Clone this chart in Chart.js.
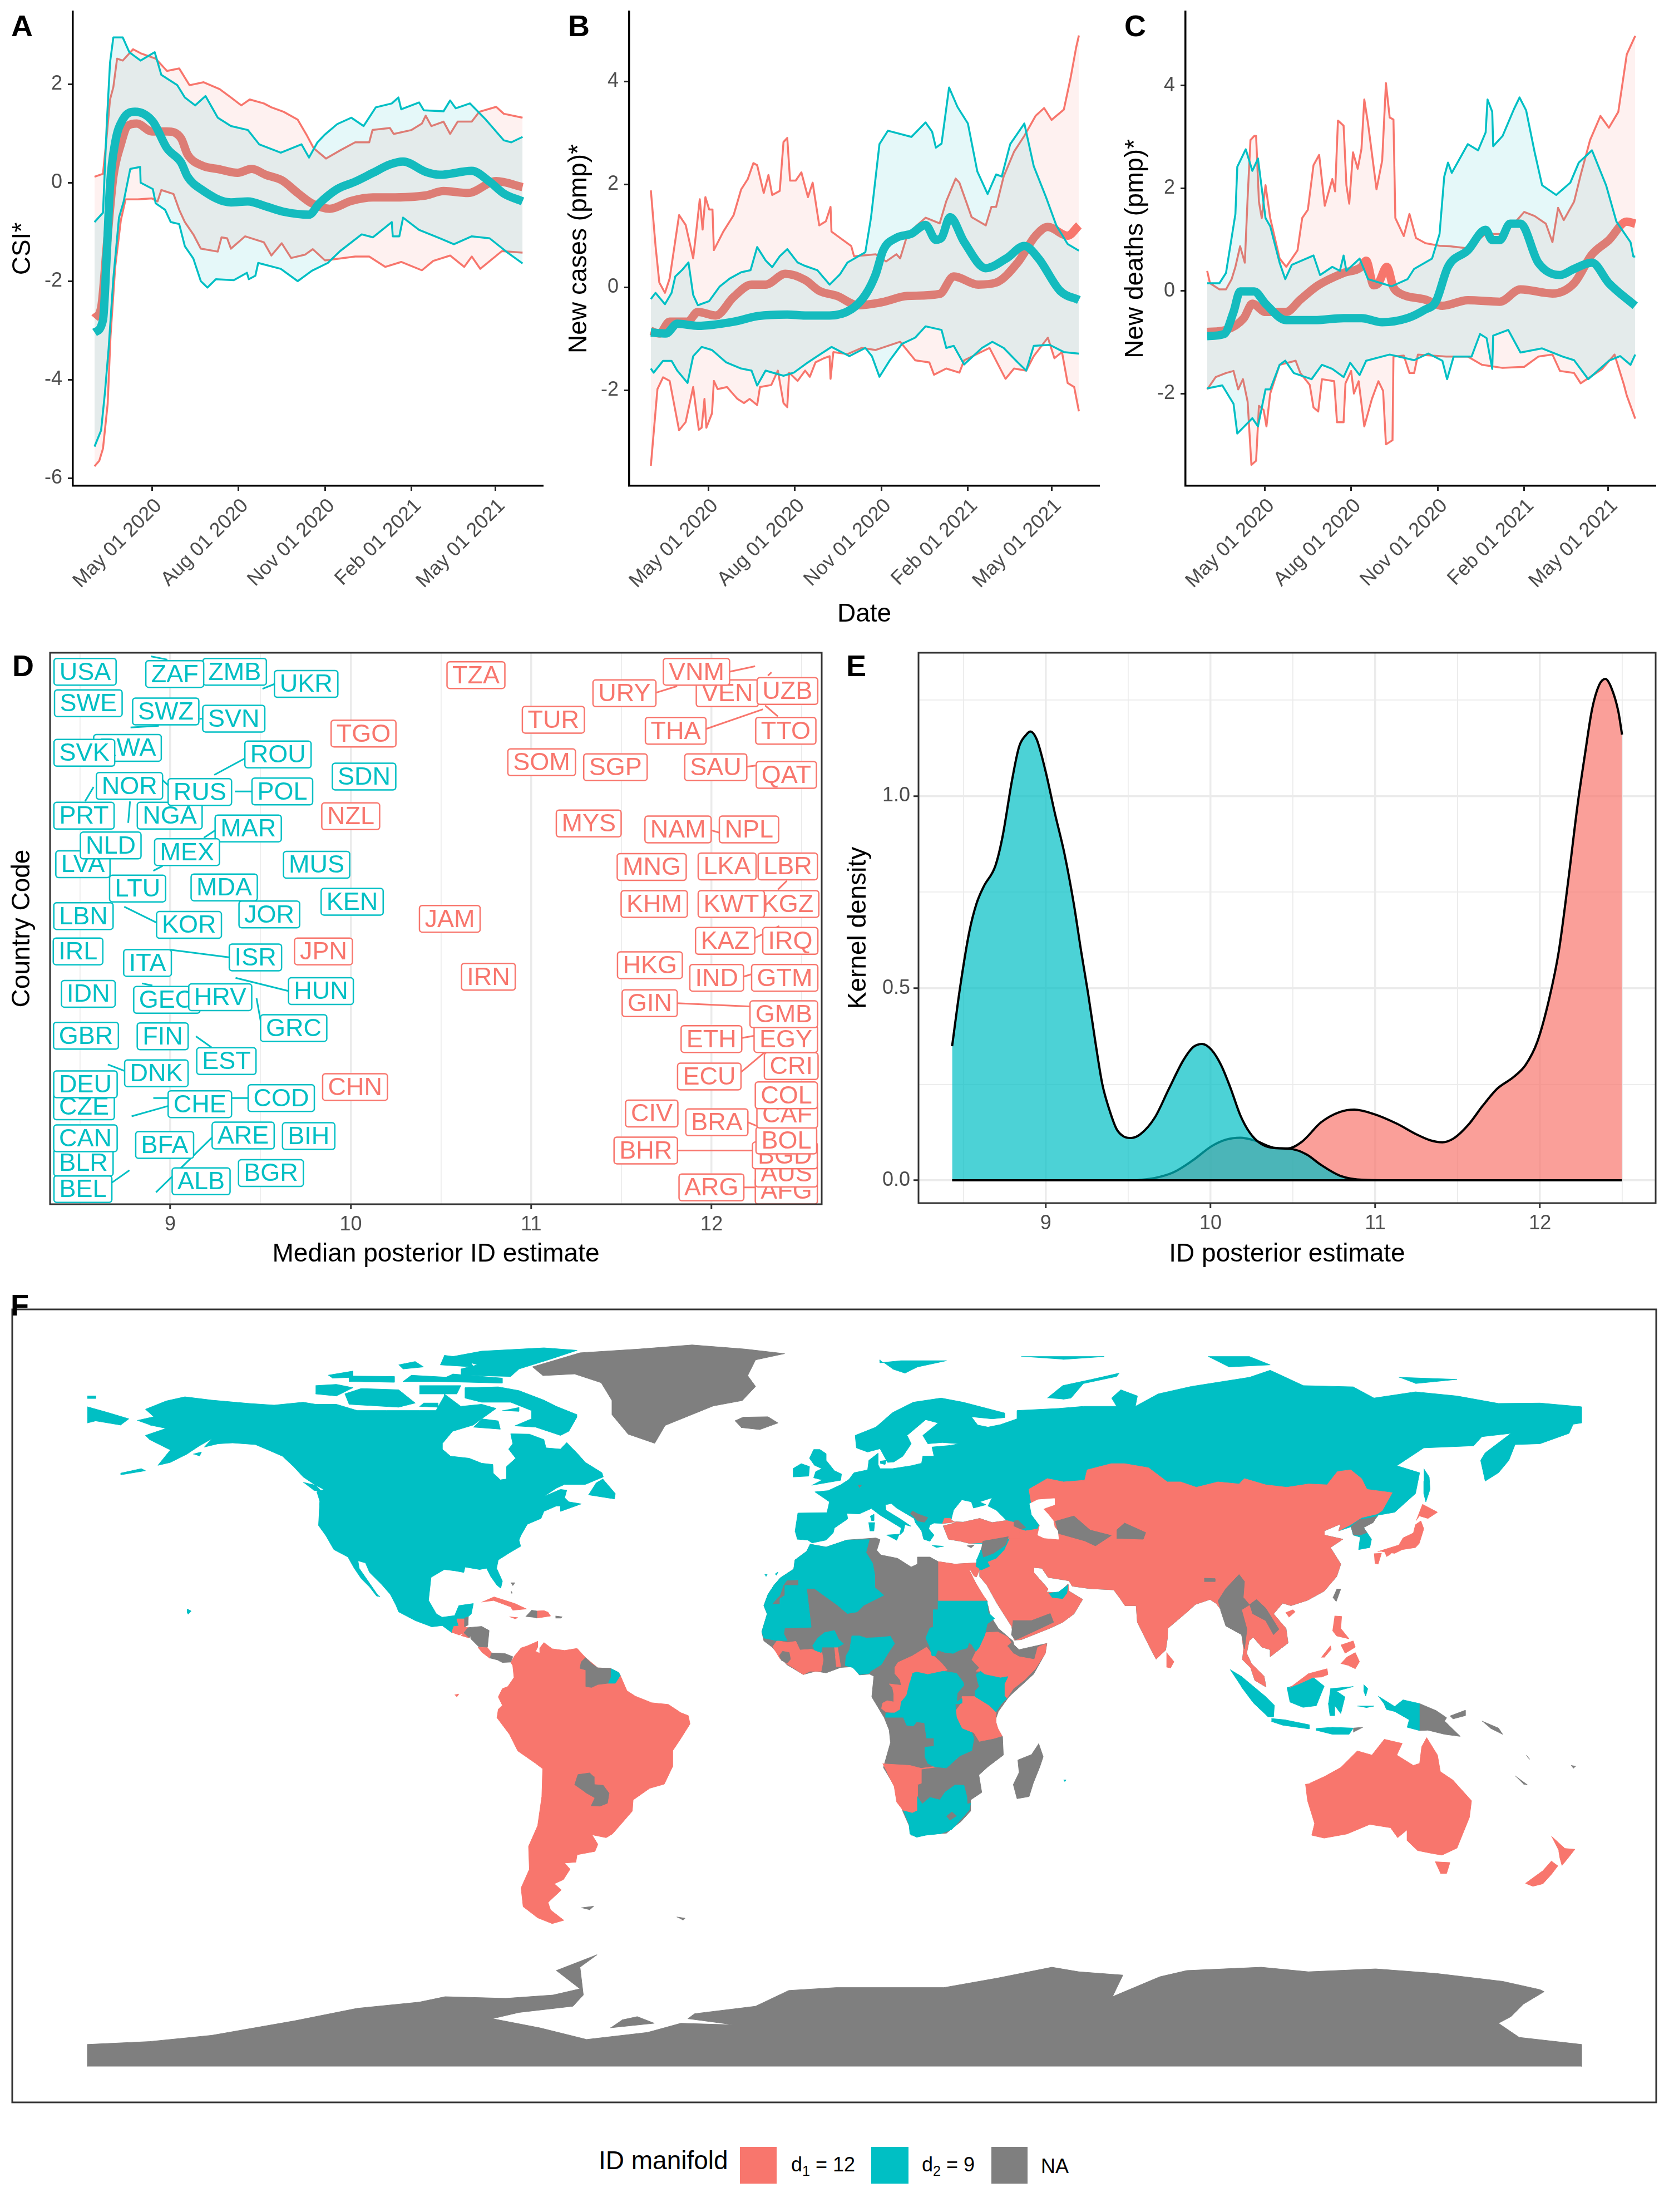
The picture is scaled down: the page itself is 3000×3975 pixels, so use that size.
<!DOCTYPE html>
<html><head><meta charset="utf-8">
<script src="https://cdn.jsdelivr.net/npm/chart.js@4"></script>
<style>
html,body{margin:0;padding:0;background:#fff;font-family:"Liberation Sans",Arial,sans-serif}
#page{position:relative;width:3000px;height:3975px;overflow:hidden}
canvas{position:absolute;display:block}
.t{position:absolute;line-height:1;white-space:nowrap;color:#000}
.L{font-weight:bold;font-size:54px}
.s{position:absolute}
sub{font-size:.7em;line-height:0}
</style></head><body><div id="page">
<canvas id="cA" width="1000" height="1150" style="left:0;top:0"></canvas>
<canvas id="cB" width="1000" height="1150" style="left:1000px;top:0"></canvas>
<canvas id="cC" width="1000" height="1150" style="left:2000px;top:0"></canvas>
<canvas id="cD" width="1500" height="1150" style="left:0;top:1150px"></canvas>
<canvas id="cE" width="1500" height="1150" style="left:1500px;top:1150px"></canvas>
<canvas id="cF" width="3000" height="1500" style="left:0;top:2300px"></canvas>
<div class="t L" style="left:20px;top:19px">A</div>
<div class="t L" style="left:1021px;top:19px">B</div>
<div class="t L" style="left:2021px;top:19px">C</div>
<div class="t L" style="left:22px;top:1169px">D</div>
<div class="t L" style="left:1521px;top:1169px">E</div>
<div class="t L" style="left:19px;top:2318px">F</div>
<div class="t" style="left:1076px;top:3859px;font-size:46px">ID manifold</div>
<div class="s" style="left:1330px;top:3858px;width:66px;height:66px;background:#F8766D"></div>
<div class="t" style="left:1422px;top:3872px;font-size:36px">d<sub>1</sub> = 12</div>
<div class="s" style="left:1566px;top:3858px;width:67px;height:66px;background:#00BFC4"></div>
<div class="t" style="left:1657px;top:3872px;font-size:36px">d<sub>2</sub> = 9</div>
<div class="s" style="left:1782px;top:3858px;width:65px;height:66px;background:#7F7F7F"></div>
<div class="t" style="left:1871px;top:3875px;font-size:36px">NA</div>
</div>
<script>
/* ---------- time axis (days since 2 Mar 2020) ---------- */
const dateTickDays=[60,152,244,336,425];
const dateTickLabels=['May 01 2020','Aug 01 2020','Nov 01 2020','Feb 01 2021','May 01 2021'];
/* ---------- panel A: CSI* ---------- */
const aYTicks=[-6,-4,-2,0,2];
const aRedHi=[[-1,.12],[8,.18],[12,.95],[15.5,1.69],[19,1.94],[23,2.52],[29,2.48],[40,2.71],[49,2.62],[64,2.52],[76,2.27],[89,2.32],[100,1.98],[115,2.04],[132,1.90],[144,1.73],[155,1.57],[164,1.69],[179,1.61],[187,1.53],[200,1.44],[215,1.28],[225,.95],[232,.70],[245,.49],[260.5,.66],[276,.82],[291,.82],[294.5,1.07],[313,1.11],[317,.99],[336,1.07],[347,1.20],[351,1.36],[357,1.15],[370,1.24],[377,.99],[385,1.24],[400,1.24],[408,1.44],[426,1.54],[434,1.40],[454,1.32]];
const aRedLo=[[-1,-5.76],[4,-5.65],[8,-5.40],[13,-4.49],[16,-3.12],[21,-1.71],[27,-.76],[32,-.34],[45,-.34],[60,-.32],[66,-.38],[70,-.15],[83,-.23],[89,-.55],[95,-.80],[104,-1.05],[112,-1.34],[130,-1.40],[134,-1.11],[140,-1.13],[144,-1.34],[159,-1.09],[179,-1.21],[187,-1.48],[198,-1.23],[208,-1.53],[223,-1.46],[231,-1.35],[244,-1.58],[276,-1.50],[291,-1.50],[308,-1.71],[325,-1.61],[347,-1.78],[359,-1.59],[377,-1.48],[392,-1.71],[400,-1.50],[409,-1.75],[432,-1.39],[454,-1.42]];
const aRedMed=[[-1,-2.75],[6,-2.54],[12,-1.29],[19,.12],[27,.78],[34,1.15],[44,1.20],[60,1.04],[76,1.04],[91,.90],[98,.57],[113,.35],[132,.27],[151,.20],[166,.28],[181,.16],[198,.05],[215,-.21],[230,-.42],[249,-.53],[272,-.37],[295,-.30],[313,-.30],[351,-.26],[370,-.17],[396,-.21],[426,.03],[454,-.09]];
const aTealHi=[[-1,-.80],[8,-.61],[12,1.19],[15.5,2.44],[19,2.95],[29,2.95],[36,2.65],[48,2.48],[63,2.65],[70,2.19],[87,1.98],[95,1.73],[106,1.57],[117,1.76],[130,1.32],[144,1.15],[162,1.07],[174,.78],[197,.61],[219,.78],[227,.51],[236,.82],[244,.98],[257,1.19],[272,1.32],[285,1.15],[298,1.53],[315,1.61],[322,1.73],[325,1.49],[344,1.63],[349,1.47],[370,1.45],[377,1.67],[383,1.51],[398,1.61],[415,1.28],[434,.86],[442,.82],[454,.93]];
const aTealLo=[[-1,-5.36],[6,-5.03],[10,-4.28],[14,-3.37],[19,-1.95],[25,-.71],[30,-.38],[37,.28],[47.5,.32],[48,0],[61,-.13],[64,-.42],[74,-.55],[80,-.80],[89,-.84],[95,-1.29],[104,-1.54],[112,-2.0],[119,-2.13],[128,-1.96],[147,-1.98],[161,-1.83],[163,-1.96],[170,-1.89],[173,-1.63],[197,-1.75],[215,-2.0],[230,-1.79],[247,-1.63],[260,-1.39],[283,-1.05],[295,-1.11],[315,-.8],[316,-1.09],[323,-1.09],[327,-.71],[344,-.96],[366,-1.13],[381,-1.25],[400,-1.09],[419,-1.13],[438,-1.42],[454,-1.64]];
const aTealMed=[[-1,-3.04],[8,-2.79],[12,-1.46],[15.5,-.05],[21,.82],[29,1.28],[42,1.44],[61,1.24],[76,.70],[91,.41],[98,.12],[112,-.13],[144,-.40],[162,-.38],[181,-.48],[200,-.59],[227,-.65],[238,-.42],[257,-.13],[276,.02],[295,.2],[313,.37],[327,.43],[351,.22],[366,.16],[400,.24],[419,.02],[434,-.22],[454,-.38]];
/* ---------- panel B: new cases ---------- */
const bYTicks=[-2,0,2,4];
const bRedHi=[[-1,1.88],[4,.80],[8,.09],[14,-.11],[19,.17],[29,1.40],[36,1.21],[44,.56],[47,1.04],[51,1.71],[54,1.12],[57,1.75],[61,1.51],[64.5,1.51],[66,.72],[76,1.08],[87,1.40],[95,1.90],[102,2.10],[108,2.41],[112,2.37],[119,1.83],[124,2.18],[128,1.79],[136,1.87],[140,2.82],[144,2.90],[147,2.07],[153,2.07],[159,2.23],[166,1.75],[171,2.03],[178,1.2],[185,1.28],[190,1.56],[191,1.08],[200,.96],[212,.80],[215,.60],[238,.64],[249,.50],[260,.64],[264,.56],[272,1.04],[291,1.35],[306,1.24],[313,1.67],[323,2.11],[327,2.03],[334,1.67],[340,1.36],[355,1.2],[361,1.56],[366,1.56],[374,2.15],[385,2.63],[396,2.94],[408,3.33],[417,3.48],[425,3.25],[438,3.45],[445,4.05],[451,4.65],[454,4.89]];
const bRedLo=[[-1,-3.47],[6,-1.98],[12,-1.75],[19,-1.82],[29,-2.78],[36,-2.62],[44,-1.94],[47,-2.37],[50,-2.77],[53,-2.73],[56,-2.17],[58,-2.73],[64,-2.45],[66,-1.82],[70,-1.98],[80,-1.94],[91,-2.17],[98,-2.25],[104,-2.17],[112,-2.29],[115,-1.94],[127,-1.90],[134,-1.62],[140,-2.25],[144,-2.33],[146,-1.66],[155,-1.82],[163,-1.62],[168,-1.74],[174,-1.46],[183,-1.38],[189,-1.34],[190,-1.78],[193,-1.26],[208,-1.30],[223,-1.18],[238,-1.22],[264,-1.06],[280,-1.42],[295,-1.46],[300,-1.70],[313,-1.58],[327,-1.66],[332,-1.42],[359,-1.18],[376,-1.78],[385,-1.58],[398,-1.62],[406,-1.34],[421,-.98],[428,-1.38],[436,-1.26],[442,-1.86],[449,-1.94],[454,-2.41]];
const bRedMed=[[-1,-.85],[8,-.90],[19,-.67],[38,-.67],[49,-.48],[68,-.55],[87,-.19],[106,.05],[121,.05],[142,.26],[163,.14],[178,-.07],[197,-.17],[219,-.35],[245,-.29],[272,-.17],[306,-.13],[321,.21],[347,.05],[366,.09],[389,.48],[408,1.0],[421,1.17],[442,1.0],[454,1.2]];
const bTealHi=[[-1,-.23],[4,-.11],[14,-.33],[21,-.11],[25,.21],[32,.33],[39,.48],[44,-.15],[49,-.35],[61,-.27],[72,.01],[83,.17],[95,.29],[105,.33],[112,.78],[121,.52],[128,.39],[136,.60],[144,.74],[155,.48],[162,.42],[176,.33],[189,.05],[200,.25],[208,.48],[227,.68],[233,1.35],[242,2.78],[251,3.04],[276,2.92],[291,3.2],[298,3.02],[302,2.71],[308,2.79],[316,3.88],[325,3.5],[336,3.18],[346,2.25],[357,1.81],[366,2.19],[372,2.15],[381,2.78],[396,3.18],[406,2.35],[419,1.75],[430,1.2],[442,.84],[454,.71]];
const bTealLo=[[-1,-1.58],[2,-1.66],[12,-1.43],[21,-1.43],[27,-1.62],[38,-1.86],[44,-1.34],[53,-1.16],[64,-1.22],[79,-1.46],[95,-1.58],[106,-1.62],[112,-1.91],[121,-1.62],[140,-1.72],[151,-1.66],[166,-1.46],[176,-1.34],[191,-1.16],[210,-1.34],[227,-1.18],[234,-1.34],[242,-1.74],[253,-1.42],[266,-1.10],[280,-.98],[291,-.76],[308,-.83],[313,-1.18],[321,-1.14],[332,-1.50],[351,-1.18],[362,-1.06],[374,-1.18],[389,-1.46],[398,-1.62],[406,-1.14],[423,-1.12],[438,-1.26],[454,-1.29]];
const bTealMed=[[-1,-.88],[15,-.90],[27,-.71],[49,-.75],[87,-.67],[113,-.56],[144,-.53],[163,-.55],[189,-.55],[212,-.43],[227,-.15],[238,.25],[246,.72],[260,.96],[276,1.04],[291,1.21],[302,.92],[308,.96],[317,1.36],[332,.88],[355,.37],[377,.56],[396,.80],[411,.56],[434,-.07],[454,-.25]];
/* ---------- panel C: new deaths ---------- */
const cYTicks=[-2,0,2,4];
const cRedHi=[[-1,.39],[2,.15],[12,.03],[19,.03],[25,.23],[29,.47],[34,.87],[39,.55],[42,1.82],[45,2.94],[49,3.02],[51,3.02],[54,1.74],[57,1.42],[61,2.06],[66,1.42],[76,.63],[83,.47],[95,.79],[100,1.42],[106,1.58],[112,2.45],[118,2.65],[124,1.66],[132,2.18],[135,1.94],[138,3.32],[144,3.22],[147,2.06],[150,1.70],[154,2.70],[159,2.38],[163,2.77],[166,3.73],[170,3.26],[179,1.98],[185,2.54],[189,4.05],[193,3.38],[197,3.34],[199,1.42],[208,1.07],[214,1.50],[221,1.03],[231,.93],[246,.88],[257,.87],[276,.83],[295,1.11],[313,1.11],[325,1.31],[336,1.54],[347,1.46],[359,1.31],[366,.95],[372,1.62],[378,1.38],[389,1.74],[396,2.26],[406,2.94],[417,3.41],[426,3.18],[436,3.49],[445,4.61],[454,4.97]];
const cRedLo=[[-1,-1.92],[8,-1.68],[19,-1.60],[27,-1.56],[32,-1.92],[37,-1.72],[42,-2.16],[46,-3.39],[51,-3.31],[54,-2.24],[59,-2.32],[62,-2.64],[66,-2.0],[76,-1.44],[93,-1.36],[98,-1.60],[108,-1.83],[112,-2.27],[117,-2.35],[121,-1.72],[134,-1.76],[137,-2.56],[144,-2.56],[146,-1.80],[152,-1.56],[155,-2.0],[160,-1.76],[166,-2.64],[174,-2.11],[181,-1.76],[186,-1.95],[189,-2.99],[196,-2.91],[197,-1.28],[208,-1.26],[214,-1.60],[219,-1.60],[223,-1.24],[253,-1.28],[276,-1.28],[291,-1.44],[313,-1.50],[336,-1.48],[351,-1.28],[366,-1.24],[374,-1.56],[389,-1.60],[396,-1.80],[419,-1.52],[432,-1.24],[442,-1.83],[445,-2.04],[454,-2.49]];
const cRedMed=[[-1,-.80],[19,-.76],[38,-.53],[47,-.25],[61,-.41],[83,-.41],[98,-.17],[117,.11],[144,.35],[163,.47],[168,.59],[176,.11],[181,.15],[190,.47],[197,.07],[204,-.05],[231,-.17],[249,-.29],[276,-.18],[310,-.21],[332,.03],[366,-.05],[389,.15],[408,.71],[426,.99],[445,1.35],[454,1.31]];
const cTealHi=[[-1,.15],[12,.15],[19,.35],[29,1.50],[31,2.42],[40,2.76],[47,2.34],[53,2.58],[61,1.42],[66,1.26],[76,.55],[82,.23],[89,.51],[112,.69],[119,.31],[132,.47],[140,.39],[144,.69],[147,.39],[161,.63],[170,.23],[195,.09],[212,.23],[219,.43],[238,.63],[246,1.11],[251,2.23],[255,2.50],[259,2.30],[276,2.86],[287,2.74],[295,3.09],[297,3.73],[302,3.49],[303,2.82],[313,3.02],[325,3.54],[331,3.77],[338,3.52],[347,2.71],[355,2.06],[370,1.87],[385,2.11],[394,2.50],[408,2.74],[423,2.06],[434,1.35],[449,.95],[452,.67],[454,.67]];
const cTealLo=[[-1,-1.90],[15,-1.84],[27,-2.20],[31,-2.78],[47,-2.48],[53,-2.64],[61,-1.92],[66,-1.92],[76,-1.44],[82,-1.36],[91,-1.60],[110,-1.72],[121,-1.44],[132,-1.52],[144,-1.68],[151,-1.40],[161,-1.64],[168,-1.36],[193,-1.24],[219,-1.35],[234,-1.22],[249,-1.36],[254,-1.72],[261,-1.28],[280,-1.28],[289,-.84],[296,-.92],[302,-1.52],[303,-.87],[319,-.76],[332,-1.20],[355,-1.12],[377,-1.28],[389,-1.35],[404,-1.72],[426,-1.36],[438,-1.27],[449,-1.44],[454,-1.24]];
const cTealMed=[[-1,-.88],[17,-.84],[27,-.41],[34,-.01],[49,-.01],[61,-.25],[83,-.57],[113,-.57],[144,-.53],[163,-.53],[185,-.61],[212,-.53],[230,-.37],[242,-.21],[255,.47],[276,.79],[295,1.19],[302,.99],[310,.99],[321,1.31],[332,1.31],[351,.55],[374,.31],[389,.43],[408,.55],[426,.15],[454,-.29]];
/* ---------- panel D: country labels [code, ID estimate, row position] ---------- */
const dXTicks=[8.5,9,9.5,10,10.5,11,11.5,12,12.5];
const dTeal=[["ALB",9.171,4.4],["ARE",9.404,12.7],["BEL",8.516,3.0],["BFA",8.969,11.0],["BGR",9.558,5.9],["BIH",9.767,12.6],["BLR",8.519,7.8],["CAN",8.530,12.2],["CHE",9.164,18.4],["COD",9.615,19.5],["CZE",8.522,18.0],["DEU",8.530,22.0],["DNK",8.923,24.0],["EST",9.311,26.2],["FIN",8.958,30.7],["GBR",8.533,30.8],["GEO",8.981,37.3],["GRC",9.684,32.2],["HRV",9.277,37.8],["HUN",9.835,38.9],["IDN",8.546,38.4],["IRL",8.489,46.1],["ISR",9.472,45.0],["ITA",8.874,44.0],["JOR",9.549,52.8],["KEN",10.008,55.1],["KOR",9.104,50.9],["LBN",8.519,52.5],["LTU",8.819,57.5],["LVA",8.516,61.9],["MAR",9.432,68.4],["MDA",9.299,57.7],["MEX",9.093,64.1],["MUS",9.811,61.8],["NGA",8.997,70.7],["NLD",8.670,65.3],["NOR",8.774,76.1],["POL",9.621,75.1],["PRT",8.522,70.7],["ROU",9.597,81.8],["RUS",9.164,75.0],["RWA",8.763,83.0],["SDN",10.074,77.8],["SVK",8.524,82.1],["SVN",9.352,88.3],["SWE",8.546,91.1],["SWZ",8.975,89.6],["UKR",9.753,94.6],["USA",8.528,96.8],["ZMB",9.357,96.8],["ZAF",9.025,96.4]];
const dRed=[["AFG",12.414,2.7],["ARG",11.999,3.3],["AUS",12.414,5.8],["BGD",12.406,9.1],["BHR",11.635,10.0],["BOL",12.414,11.8],["BRA",12.029,15.1],["CAF",12.419,16.5],["CHN",10.024,21.5],["CIV",11.668,16.7],["COL",12.414,20.0],["CRI",12.441,25.3],["ECU",11.987,23.4],["EGY",12.411,30.2],["ETH",11.999,30.2],["GIN",11.657,36.7],["GMB",12.400,34.7],["GTM",12.405,41.3],["HKG",11.658,43.6],["IND",12.028,41.3],["IRN",10.763,41.5],["IRQ",12.436,48.0],["JAM",10.549,52.0],["JPN",9.849,46.1],["KAZ",12.075,48.0],["KGZ",12.422,54.7],["KHM",11.682,54.7],["KWT",12.109,54.7],["LBR",12.422,61.5],["LKA",12.086,61.5],["MNG",11.668,61.4],["MYS",11.319,69.3],["NAM",11.814,68.2],["NPL",12.207,68.2],["NZL",10.0,70.6],["QAT",12.414,78.1],["SAU",12.023,79.5],["SGP",11.467,79.5],["SOM",11.058,80.4],["TGO",10.071,85.6],["THA",11.801,86.1],["TTO",12.411,86.1],["TUR",11.123,88.1],["TZA",10.694,96.2],["VEN",12.087,92.9],["URY",11.517,92.9],["UZB",12.420,93.3],["VNM",11.916,96.8]];
const dSegTeal=[[8.591,98.5,8.678,97.0],[8.893,99.6,8.984,99.0],[9.511,93.7,9.579,94.6],[8.780,86.7,8.937,87.0],[9.162,88.3,9.181,88.3],[9.244,78.1,9.414,81.1],[8.956,77.2,8.992,76.1],[9.358,75.1,9.453,75.1],[8.528,73.3,8.575,75.9],[8.777,73.3,8.767,69.4],[9.186,66.7,9.252,68.1],[8.906,60.7,8.958,61.6],[8.745,54.2,8.925,51.3],[9.0,46.4,9.330,45.0],[8.843,40.3,8.901,39.9],[9.362,41.3,9.657,38.9],[9.478,37.6,9.503,33.1],[9.142,30.7,9.228,28.7],[8.654,25.6,8.748,24.4],[8.906,19.5,8.992,19.5],[9.338,19.5,9.434,19.5],[8.786,16.2,8.992,18.1],[8.921,2.4,9.233,12.4],[8.678,4.2,8.774,6.4]];
const dSegRed=[[12.097,96.8,12.241,97.8],[11.691,93.0,11.809,94.2],[12.312,96.1,12.332,96.7],[11.966,86.4,12.284,90.0],[12.296,90.7,12.367,88.7],[12.194,79.6,12.244,79.8],[11.993,68.1,12.045,67.6],[12.367,57.3,12.417,58.9],[12.238,48.5,12.375,50.7],[12.175,41.5,12.225,42.0],[11.806,36.7,12.218,36.1],[12.167,30.4,12.238,30.8],[12.163,24.2,12.291,27.7],[12.202,15.1,12.254,14.4],[11.809,10.0,12.229,10.0],[12.178,3.3,12.246,3.3]];
/* ---------- panel E: kernel densities ---------- */
const eXTicks=[8.5,9,9.5,10,10.5,11,11.5,12,12.5];
const eYTicks=[0,.25,.5,.75,1,1.25];
const eTeal=[[8.431,.349],[8.478,.498],[8.535,.646],[8.579,.720],[8.622,.764],[8.694,.819],[8.737,.894],[8.795,1.042],[8.838,1.129],[8.882,1.160],[8.905,1.168],[8.945,1.147],[8.997,1.067],[9.055,.955],[9.113,.850],[9.170,.719],[9.214,.597],[9.257,.485],[9.300,.362],[9.343,.250],[9.387,.182],[9.430,.133],[9.473,.114],[9.517,.110],[9.574,.120],[9.661,.163],[9.747,.238],[9.834,.312],[9.892,.346],[9.949,.355],[10.007,.339],[10.065,.299],[10.123,.238],[10.180,.170],[10.238,.124],[10.296,.098],[10.368,.085],[10.498,.081],[10.584,.067],[10.671,.040],[10.786,.012],[10.931,.001],[11.075,0]];
const eRed=[[9.545,0],[9.661,.006],[9.776,.021],[9.892,.052],[10.007,.089],[10.094,.106],[10.180,.111],[10.267,.104],[10.382,.085],[10.469,.083],[10.556,.101],[10.671,.151],[10.786,.178],[10.873,.184],[10.988,.173],[11.133,.147],[11.248,.120],[11.335,.104],[11.407,.099],[11.479,.110],[11.566,.145],[11.652,.194],[11.739,.238],[11.840,.269],[11.912,.300],[11.984,.361],[12.056,.473],[12.114,.596],[12.172,.782],[12.229,.980],[12.273,1.109],[12.316,1.226],[12.359,1.289],[12.397,1.305],[12.432,1.283],[12.475,1.221],[12.498,1.160]];
const eBase=[[8.431,0],[12.498,0]];
/* ---------- panel F: map polygons (lon, lat) ---------- */
const coastSouthAsia=[[121.5,39],[122,40.7],[118,39],[118,38],[122.5,37],[119.5,35],[122,31],[121,28],[118,24.5],[114,22.3],[110,21],[108,21.6],[105.8,19],[108.8,15.5],[109.3,12],[105,8.7],[105,10.4],[103,11],[100.9,13.4],[99.9,12.5],[99.3,9.5],[100.5,7],[103.5,4],[104,1.4],[101.3,3],[100.3,6],[98.3,8],[98.6,10.5],[98,15],[97,16.5],[94.5,16],[94.3,18.5],[92,21.5],[90.5,22.5],[87,21.3],[85,19.5],[80.3,15.5],[80.2,13],[79.8,10.3],[77.5,8.1],[76,11],[73,17],[72.7,21],[70,21],[69,22.5],[67.3,24.8],[61.5,25.1],[57.3,25.7],[56.5,27],[51.5,27.8],[50,30],[48,30.2],[48,29],[50.2,26.5],[51.5,25],[51,24.3],[54,24],[56.3,26.2],[56.5,24.5],[59.8,22.5],[57.7,19],[55,17],[52,15.6],[45,12.8],[43.3,12.7],[42.7,16],[39.2,21.5],[36.7,26],[35,28],[35,29.4]];
const baseTeal=[
[[-168,65.6],[-164,66.5],[-166,68.3],[-161,70.3],[-156.5,71.3],[-150,70.5],[-141,69.7],[-135,69.3],[-128,70],[-125,69.5],[-120,69.5],[-115,68],[-108,68],[-100,68],[-96,68],[-94,71.5],[-94,72],[-90,69],[-85,69.5],[-81.5,68.5],[-85,66],[-87,64.5],[-92,63],[-94.5,60],[-94.5,58.7],[-92.5,57],[-88,56.5],[-85,55.3],[-82.3,55],[-82.2,52.9],[-80.5,51.3],[-79,51.5],[-79,54.5],[-76.8,56.5],[-78.5,58.7],[-77.5,60],[-78,62.4],[-73.5,62.3],[-70,61],[-69.5,59],[-66,58.7],[-64.5,60.3],[-61.8,57.5],[-60,55.5],[-56,53],[-55.7,52],[-60,50.2],[-65,50.2],[-67,49.3],[-70,47.3],[-66,49],[-64.5,48.8],[-65,47],[-64,46],[-61,45.5],[-63.5,44.6],[-66,43.7],[-66,45],[-67,45],[-70,43.7],[-70.7,42],[-74,40.6],[-75.5,38],[-76,36.8],[-75.6,35.3],[-78,33.9],[-81,32],[-81.4,30],[-80,26.9],[-80.4,25.2],[-81.3,25.9],[-82.8,28],[-83.8,30],[-85.5,29.7],[-89,30.3],[-89.3,29],[-91.5,29.4],[-94,29.7],[-97.2,27.8],[-97.5,25],[-97.8,22.3],[-95.9,19],[-94.5,18.2],[-91.5,18.6],[-90.5,21],[-87,21.5],[-87.5,19],[-88.3,18.3],[-89.2,18],[-89.2,17.8],[-91,17.8],[-90.5,16.1],[-91.7,16],[-92.2,14.5],[-94.5,16.2],[-97,15.9],[-101,17.4],[-105,19.5],[-105.6,21],[-107,23.7],[-109,26],[-112,29],[-113,31.3],[-114.8,31.8],[-114.5,30],[-110,23.5],[-109.5,23.2],[-110.3,23.3],[-112,25.5],[-114,27.5],[-115.7,30],[-117.1,32.5],[-117.2,32.7],[-120.6,34.5],[-122.5,37.8],[-124.3,40.3],[-124,46.2],[-124.7,48.4],[-123,49],[-125,50],[-128,52],[-130.3,54.5],[-133,57],[-136,58.3],[-139.5,59.8],[-145,60.2],[-148.5,60],[-151.8,59.2],[-150,61.2],[-153,59.5],[-156,57.5],[-160,55.5],[-163,54.8],[-160,58.5],[-162,59.5],[-165,61],[-166,62],[-161,63.7],[-165,64.5]],
[[-62,66.5],[-64,63],[-66,62],[-72,64],[-77,64.3],[-73,66],[-73,68],[-78,70],[-85,70],[-89,71],[-89,73.5],[-81,73.7],[-76,72.8],[-70,70.5],[-67,69],[-62,67]],
[[-117,69.5],[-105,68.8],[-101,69.8],[-105,73],[-114,73.3],[-118,72]],
[[-125,72],[-120,71.5],[-116,73.5],[-120,74.3],[-125,74]],
[[-90,76.5],[-78,76.2],[-76,78],[-68,80.5],[-62,82.5],[-70,83.1],[-85,82.3],[-92,81],[-86,79],[-90,78]],
[[-96,75],[-80,74.6],[-80,75.8],[-92,76.8]],
[[-100,72],[-91,72],[-90,74],[-100,74]],
[[-117,75],[-106,74.8],[-106,76.2],[-117,76.3]],
[[-95,79],[-87,78.5],[-88,80.5],[-94,81.3]],
[[-87,64],[-80.5,63.5],[-81,65.5],[-85,66]],
[[-122,76.5],[-116,77.5],[-116,76],[-121,75.8]],
[[-104,78],[-99,78.5],[-101,79.8],[-105,79]],
[[-104,75],[-93,75],[-93,76],[-102,76.5]],
[[-100,69],[-95.5,68.8],[-95.5,69.8],[-99,69.8]],
[[-80,68],[-76,67.8],[-76,68.8]],
[[-59.3,47.7],[-53,46.7],[-52.8,48],[-55.8,51.5],[-57.5,50.5]],
[[-128,50.7],[-125,50],[-123.4,48.4],[-125.5,48.8]],
[[-156,20.2],[-155,19.7],[-155.7,18.9],[-156,19.5]],
[[-172,52.5],[-166,53.5],[-167,54],[-172,52.9]],
[[-154.5,57.5],[-152.5,58],[-153,57]],
[[-180,68.9],[-175,67.5],[-170,66],[-172,64.5],[-178,65.5],[-180,65]],
[[-180,71.5],[-178,71.5],[-178,70.9],[-180,70.9]],
[[-9.5,38.8],[-8.8,43.3],[-1.8,43.4],[-1.2,46],[-4.7,48.4],[-1.5,48.7],[1.5,50.1],[3.5,51.4],[4.7,53],[8,53.7],[8.3,56],[10.5,57.7],[10.5,55],[11,54],[14,54],[18.5,54.7],[21,55.3],[21.3,57],[24,57],[23.5,59.2],[28,59.6],[30,60],[26,60.3],[22.5,60],[21.3,62],[25,65],[22,65.8],[17.5,62],[18.5,60],[16.5,57],[14.3,55.6],[12.8,55.5],[11,58.8],[8,58],[5.3,59],[5,62],[10,64],[14,67.5],[19,70],[25.7,71],[31,70],[41,67.4],[41,66.3],[38,66],[33,66.5],[34.5,64.5],[37,64],[40,64.6],[44,66],[44,68],[54,68.5],[60,69],[68,69],[66.8,71],[69,73],[73,71.5],[72.5,69],[78,72],[86,73.8],[100,76],[105,77.7],[113,74],[125,73.7],[130,71],[140,72.5],[150,71.5],[160,69.7],[170,69.8],[180,68.9],[180,65],[178,64.7],[177,62.5],[170,60],[164,59.8],[162.5,56],[160,53],[156.8,51],[155.7,56],[156.8,57.8],[163,62.5],[156,61.7],[154,59.5],[142,59],[135.5,54.7],[141,53],[140,48],[135,43.5],[131,42.8],[130.7,42.3],[127.5,39.8],[129.4,37],[129,35],[126.3,34.5],[126.7,37.5],[125,38],[124.5,40],...coastSouthAsia,[34.3,31.3],[35,33],[36,36],[32.5,36],[30.5,36.5],[27.5,37],[26.5,39.5],[26.2,40.2],[29,40.9],[29.2,41.2],[31,41.1],[35,42],[38,41],[41.5,41.5],[39,44],[37,45],[38,47],[35,46],[36.5,45.3],[33.5,44.5],[33,46],[30.7,46.5],[28.7,44],[28.1,41.6],[29,41.15],[27,40.9],[26.2,40.8],[24,40.9],[23,40.4],[22.7,39.5],[24,38],[23,36.5],[21.5,37],[21,39],[19.5,41],[19.2,42],[15,44.5],[13.7,45.6],[12.3,45.3],[12.4,44],[16,41.8],[18.5,40.1],[17,40.5],[16.6,38.8],[15.7,38],[16.1,39.7],[14,41],[11,42.8],[8.9,44.4],[6,43.1],[3,43.2],[3.2,41.9],[0,39.7],[-.3,38.5],[-2,36.8],[-5.4,36.1],[-6.4,36.8],[-9,37]],
[[10.9,80.2],[11,79.5],[16,80],[27,80],[20,78.5],[17,77],[14,78]],
[[45,81],[65,81],[55,80.3]],
[[51.3,71],[55,74],[62,75.5],[68.6,77],[68,76.2],[60,74.5],[57,71],[55,70.7]],
[[90,81],[100,81],[105,79],[95,78.5]],
[[136,76],[150,75.5],[140,74.5]],
[[-5.5,50],[1.5,51.2],[1.7,52.7],[0,53.5],[-2,56],[-2,57.6],[-3.5,58.6],[-5,58.6],[-6,56.5],[-4.8,54.8],[-3,54],[-4.5,53.3],[-5,51.8],[-3,51.3]],
[[-10,52],[-6.2,52.2],[-6,54.5],[-8,55.2],[-10,54]],
[[12.5,38],[15.6,38.2],[15,36.7]],
[[8.2,41],[9.7,41],[9.5,39],[8.5,39]],
[[8.6,42.5],[9.5,43],[9.5,41.5],[8.9,41.5]],
[[23.5,35.5],[26.3,35.3],[24.5,35]],
[[11,55.8],[12.5,56],[12.2,55],[11,55.3]],
[[142,54],[143.3,52],[143.5,49],[142.5,46],[142,48],[142,51]],
[[95.3,5.6],[98,4],[104,-1],[106,-3],[105.8,-5.8],[104.5,-5.8],[101,-2.5],[98,1.5]],
[[105.3,-6.2],[108.5,-6.5],[114.4,-7.7],[114.4,-8.7],[108,-7.8],[105.3,-6.9]],
[[109,1.2],[111.6,2],[115.4,3.7],[118,1.6],[116.1,-3.1],[112.9,-3.5],[109.7,-2.2]],
[[119.5,1],[125,1.5],[121,.4],[123,-1],[122,-5],[120.5,-3],[120.5,-5.5],[119.4,-5.5],[119,-2.5]],
[[116,-8.6],[120,-8.3],[125,-8.5],[124,-10],[120,-10],[116,-9]],
[[127.5,2],[128.5,1],[128,-.8],[127.5,.5]],
[[126,-3.2],[130,-3.2],[128,-3.6]],
[[131,-.8],[135,-3.3],[137,-1.7],[141,-2.6],[141,-9.1],[138,-8.3],[138.5,-6.5],[135,-4.5],[133,-4],[132.5,-2.8]],
[[55.2,-21],[55.8,-21],[55.5,-21.4]],
[[-16.8,28.5],[-16.2,28.5],[-16.5,28]],[[-14.3,28.6],[-13.6,29.1],[-14,28.3]]
];
const baseRed=[
[[-77.3,8.6],[-75.5,10.8],[-74,11.3],[-71.5,12.4],[-71.5,11],[-72,10],[-71,9.5],[-71,10.8],[-70,12.1],[-68,10.6],[-65,10.2],[-62,10.7],[-60.9,9.5],[-60,8.5],[-57,6],[-54,5.9],[-52,4.9],[-51.6,4.2],[-50,.5],[-48,-.8],[-44,-2.4],[-40,-2.8],[-37,-4.8],[-35.2,-5.5],[-34.8,-7.5],[-37,-11],[-39,-14],[-39,-17.8],[-41,-22],[-44.5,-23],[-48.5,-25.8],[-48.7,-28.5],[-52,-32.3],[-53.5,-34],[-55,-34.9],[-58.4,-34.2],[-57,-36.5],[-57.7,-38.2],[-62,-39],[-62.3,-40.8],[-65,-41],[-63.7,-42.5],[-65.3,-45],[-67.5,-46],[-65.8,-47.5],[-69,-50.5],[-68.4,-52.3],[-65.2,-54.8],[-68,-55.6],[-71.5,-54.2],[-75,-51.5],[-75.5,-47],[-73.5,-42.5],[-73.7,-37],[-71.5,-32],[-70.5,-25],[-70.3,-18.3],[-72,-17],[-76.3,-14],[-78.3,-10],[-81.3,-6],[-81,-4],[-80,-3],[-81,-1],[-80,1],[-78.7,1.5],[-77.2,3.7],[-77.5,6.5],[-78,7.4]],
[[-85,21.8],[-82,23.1],[-77,21.5],[-74.2,20.2],[-77.5,19.9],[-78,20.7],[-82,22.2]],
[[-71.7,18],[-68.4,18.5],[-69,19.4],[-70,19.8],[-71.7,19.7]],
[[-78.3,18.3],[-76.3,18.1],[-77,17.8]],
[[-92.2,14.5],[-91.7,16],[-90.5,16.1],[-91,17.8],[-89.2,17.8],[-89,15.9],[-88.3,15.7],[-89.3,14.4],[-90.5,13.9]],
[[-90,13.8],[-88,13.2],[-87.7,13.8],[-89.3,14.4]],
[[-85.9,10.9],[-83.7,11],[-82.6,9.6],[-83,8.3],[-85,9.8]],
[[-91.5,-.5],[-90.5,-.3],[-91,-1]],
[[113.5,-22],[114,-26],[115.7,-31.5],[115,-34.3],[118,-35],[123.5,-34],[129,-31.7],[134,-32.5],[135.7,-34.9],[138,-33],[138,-35.6],[140.5,-38],[144,-38.7],[146.4,-39.1],[150,-37.4],[153,-30],[153.5,-26],[149,-21],[146,-19],[145.3,-15],[142.7,-10.8],[141.5,-13],[141,-17],[139.5,-17.5],[135.5,-15],[136.8,-12.2],[132.5,-11.2],[129.5,-15],[126,-14],[122,-18],[118,-20.2],[114.5,-21.8]],
[[144.7,-40.7],[148.3,-40.9],[147.5,-43.5],[146,-43.5]],
[[172.7,-34.5],[176,-37.5],[178.4,-37.7],[177,-39.5],[175.3,-41.6],[174.8,-39.8],[174.5,-38]],
[[172.7,-40.5],[174.3,-41.7],[172.7,-43.8],[170.7,-46],[168.3,-46.6],[166.5,-45.9],[170.5,-43]],
[[140.2,41.5],[141.7,45.4],[145.3,43.5],[143,42],[141,42.6]],
[[130.9,34],[136,35.6],[137,37.3],[139.5,38.5],[140,40.5],[141.3,41.4],[142,39.5],[140.9,36],[140,35],[136.8,34.5],[135,33.6],[132,34]],
[[130,33.5],[131.8,33.6],[131,31],[130.2,31.2]],
[[132.5,34],[134.5,34.2],[134,33.4],[133,32.8]],
[[108.7,19.3],[110.5,20],[111,19.5],[109.5,18.2]],
[[80,9.7],[81.8,7.5],[81,6],[80,6.2]],
[[120.5,18.5],[122.2,18.4],[122,15.5],[124,13],[121,13.7],[120,15]],
[[122,7],[123.5,8.6],[125.5,9.7],[126.5,7.5],[125.5,5.8],[124,6.5]],
[[122,11.5],[125,12.5],[125.5,11],[123,9.5]],
[[117.3,8.5],[119.5,11.3],[119.7,10.5],[118,8.5]],
[[109.7,1.2],[114.2,4.6],[118.7,5.8],[118.9,4.4],[117.4,3.8],[115.3,3.7],[111.6,2]]
];
const baseGrey=[
[[-5.9,35.8],[-2,35.1],[3,36.8],[10,37.3],[11,36.9],[10.2,34.3],[11.2,33.2],[15.2,32.4],[18.5,30.3],[20,31],[20,32.7],[23,32.7],[25,31.6],[29,31],[32.5,31.2],[34.3,31.3],[34.9,29.5],[34.2,27.9],[33.6,28.2],[32.6,29.9],[32.5,29.5],[34,26.5],[35.5,24],[37,21],[37.5,18.7],[39.5,15.5],[43,12.5],[43.3,11.5],[44.5,10.4],[51.2,11.9],[50.8,9.5],[48,4.5],[42,-1],[39.5,-4.5],[38.8,-6.5],[39.5,-10],[40.5,-10.5],[40.7,-15],[37,-17.8],[34.8,-19.8],[35.5,-24],[32.8,-25.8],[32.8,-28.5],[30.5,-31],[27,-33.8],[22,-34.2],[18.5,-34.3],[18,-32],[16.5,-28.6],[14.5,-22.5],[11.8,-18],[13.5,-12],[13.2,-9],[12,-6],[9,-1],[9.5,4],[8.5,4.5],[6,4.3],[4.5,6.3],[1.5,6.1],[-2,4.8],[-4.5,5.2],[-7.5,4.4],[-11.5,6.8],[-13.3,9],[-15,11],[-17,12.5],[-17.5,14.7],[-16.2,19],[-17,21],[-16,23.7],[-14.5,26],[-13,27.7],[-9.8,29.8],[-9.5,32],[-6.8,34]],
[[-72.8,78.5],[-61.3,81.9],[-47.2,82.8],[-34.3,83.8],[-21.5,82.8],[-12,81.7],[-19,80.2],[-20.9,76.4],[-19,73.8],[-22.2,70.4],[-29.2,69.1],[-40.8,64.4],[-43.3,60.1],[-49.7,62.3],[-53.6,67],[-53.6,70.4],[-56.2,74.7],[-62.6,76.8],[-70.3,76.4]],
[[-24,65.5],[-22,66.4],[-16,66.5],[-13.6,65],[-18,63.4],[-22.5,63.9]],
[[-180,-90],[-180,-84.7],[-165,-84],[-150,-82.5],[-130,-79],[-115,-76],[-100,-74.5],[-93.8,-73.2],[-79.2,-73.6],[-67.8,-72.8],[-61.3,-71.3],[-67,-66.9],[-57.2,-63.1],[-61.3,-66.1],[-60.5,-72.8],[-63,-75.5],[-76,-77],[-82.4,-78.5],[-71,-80.7],[-59.7,-83.5],[-45,-81.8],[-37,-79.6],[-24,-80],[-35.3,-78.5],[-33.7,-77.3],[-19,-75.5],[-11,-71.7],[.4,-71],[26.4,-71],[39.4,-68.7],[52.4,-66.1],[58.9,-67.2],[69.5,-68],[67,-73.2],[78.4,-68.4],[84.9,-66.9],[102.8,-66.1],[114.2,-67.2],[130.4,-66.5],[145,-67.6],[161,-69.5],[170,-71.5],[171,-72],[166,-75],[163,-78],[160,-79.6],[165,-83],[180,-84.7],[180,-90]],
[[-54,-80.7],[-43.4,-79.6],[-47.5,-78],[-51.2,-78.8]],
[[-61,-51.8],[-58,-51.4],[-59,-52.3]],
[[-38,-54],[-36,-54.3],[-36.5,-54.8]],
[[49.2,-12.2],[50.3,-15.4],[49.5,-17.8],[47.9,-21.8],[46.9,-25],[44,-25.5],[43.1,-22.1],[44.5,-19.2],[44.2,-16.2],[47.4,-14.9]],
[[141,-2.6],[145,-4.3],[147.5,-6],[147,-6.8],[150.8,-10.5],[147,-10],[143,-9],[141,-9.1]],
[[148.3,-5.6],[152,-4.2],[152,-5.5],[149,-6.3]],
[[156,-6.8],[160,-8.5],[161,-10],[158,-8.5]],
[[166.7,-15],[167.5,-16],[167,-15.5]],
[[164,-20],[167,-22.2],[166,-22]],
[[177.5,-17.5],[178.6,-17.7],[178,-18.2]],
[[121,25],[122,25],[120.9,22],[120.1,23]],
[[-74.4,18.4],[-72.5,18.2],[-71.7,18],[-71.7,19.7],[-73,19.9]],
[[-67.2,18.5],[-65.6,18.3],[-65.9,18],[-67.2,18]],
[[-78,26.5],[-77,26.5],[-77.5,25.8]],
[[-77.9,24.5],[-77.6,24],[-77.9,24]],
[[-89.3,14.4],[-88.3,15.7],[-85,16],[-83.2,15],[-83.6,11],[-85.7,11.1],[-87.6,13],[-87.7,13.8],[-88,13.2]],
[[-83,8.3],[-82.6,9.6],[-79.5,9.5],[-77.5,8.7],[-78,7.4],[-80,7.3],[-81,7.8]],
[[125,-8.5],[127.3,-8.3],[125,-9.5]]
];
const overRed=[
[[46.8,49],[51.3,51.6],[55.2,50.8],[60.3,51.2],[60.9,53.7],[66.7,55.2],[69.9,55.2],[75.7,54.2],[80.2,50.8],[83.4,50.8],[87.2,49.5],[92.4,50.8],[97.5,50.3],[98.8,51.6],[103.9,50.1],[109,49.5],[114.2,50.3],[118.7,50.1],[121.2,53.3],[124.4,53.7],[127,51.6],[128.3,49],[134.4,48.2],[132,43.9],[130.8,43.1],[127,42.2],[124.4,40.5],...coastSouthAsia,[37,31.5],[39,32.3],[41,34.4],[42.3,37.2],[44.8,37.2],[44.5,39.5],[46,39],[48,39.3],[49,39.5],[50,42],[47.5,45]],
[[26.2,40.2],[29,40.9],[29.2,41.2],[31,41.1],[35,42],[38,41],[41.5,41.5],[43.5,41],[44.5,39.7],[44.8,37.2],[42.2,37.2],[36.5,36.8],[36,36.2],[32.5,36],[30.5,36.5],[27.5,37],[26.5,39.5]],
[[26,40.7],[26.5,42],[28,42],[28.1,41.6],[29,41.15],[27,40.9]],
[[-16.8,13.6],[-14,13.7],[-14,13.3],[-16.8,13.3]],
[[-14.9,11.05],[-13.8,12.6],[-11.4,12.1],[-9.3,12.4],[-8.3,10.3],[-5.6,10.5],[-3,9.7],[-2.7,7.9],[-3.2,5.2],[-5.9,5.2],[-7.5,4.4],[-9.9,6],[-11.2,6.8],[-13.3,8.4]],
[[-.05,11],[.75,11],[1.5,6.3],[.5,6.3],[.2,8.9]],
[[25,31.6],[29,31],[32.5,31.2],[34.3,31.3],[34.9,29.5],[34.2,27.9],[33.6,28.2],[32.6,29.9],[32.5,29.5],[34,26.5],[35.5,24],[36.9,22],[25,22]],
[[14.5,6],[15.3,7.3],[18.8,8.9],[22.2,11],[24.1,8.7],[25.7,7.3],[27.2,5.5],[26.2,5.2],[22.5,4.4],[19.8,4.7],[18.8,4.7],[18.2,2.6],[17.4,-.6],[16.1,-2.2],[15.85,-4.05],[14.5,-4.85],[12.4,-4.6],[11.35,-3.8],[11.6,-2.5],[12.7,-1.9],[14.3,-2.2],[14.3,-.3],[14,1.25],[13.2,2.15],[16.1,1.8],[15.85,3.1],[14.5,4.7]],
[[30.7,-.9],[33.9,-.9],[37.3,-3],[38.9,-4.6],[38.9,-7],[39.4,-8.6],[40.4,-10.4],[38.4,-11],[34.9,-11.7],[33.6,-9.6],[30.7,-8.6],[29.4,-5.9],[29.25,-4.3],[30.4,-2.7]],
[[33.1,7.9],[34.1,10],[34.9,11],[36.25,14],[36.5,14.5],[39.4,14.65],[41.8,13.4],[42.6,12.1],[41.6,11.3],[43.1,9.5],[44.5,8.7],[48.2,8.03],[49,11],[51.1,11.85],[50.8,9.5],[48.4,5.75],[45.8,3.1],[43.1,.98],[41.5,-1.4],[40.9,-.6],[40.9,2],[41.8,3.9],[40,3.6],[36.2,4.4],[35.2,5.2],[34.1,5.2],[34.9,6]],
[[11.6,-17.1],[18.2,-17.5],[20.9,-18.2],[24.6,-17.7],[25.1,-17.8],[20.9,-18.4],[20.9,-21.8],[20,-22.1],[20,-28.4],[18.75,-29],[16.6,-28.4],[15,-26.3],[14.4,-22.6],[12.7,-19.2]]
];
const overTeal=[
[[-5.9,35.8],[-2,35.1],[3,36.8],[8.4,36.9],[7.6,33.8],[9.2,31.2],[9.7,28.5],[9.7,25.4],[11.9,23.5],[7.1,21.1],[5.5,19.5],[3.1,19.1],[.75,21.1],[-4.8,25.1],[-6.7,25.1],[-5.6,15.8],[-12,15.6],[-12.2,14.2],[-11.4,12.6],[-14.1,12.6],[-17,13.2],[-17.5,14.7],[-16.2,19],[-17,21],[-16,23.7],[-14.5,26],[-13,27.7],[-9.8,29.8],[-9.5,32],[-6.8,34]],
[[-5.3,11.3],[-4,13.2],[-2.4,14.5],[0,15],[1,12.9],[2.2,11.8],[.75,11],[-3,11],[-3.2,9.7],[-4.8,10.3]],
[[2.6,6.5],[2.8,8.9],[3.7,10.5],[4.2,13.7],[6.05,13.7],[7.6,13.2],[10.3,13.3],[13.5,13.6],[14.5,11.85],[12.9,9.5],[11.3,6.8],[8.7,5.2],[8.4,4.7],[6,4.4],[4.5,6]],
[[24.9,22.1],[36.8,22.1],[37.05,19.3],[38.6,17.9],[36.8,16.6],[36.25,14],[34.9,11],[34.1,10],[33.1,11.6],[32.4,12.1],[32,10.8],[30.2,10.3],[28.6,9.5],[26.7,9.7],[24.9,10.3],[24.3,8.9],[23.5,8.9],[23,11],[22,13.2],[23,15.6],[23.8,15.8],[23.8,20],[24.9,20]],
[[18.8,4.7],[19.8,5],[22.5,4.4],[26.2,5.2],[29.4,4.7],[31,2.6],[31.2,1.8],[29.6,-.1],[29.4,-2.2],[30.7,-1.4],[30.7,-2.5],[29.1,-2.7],[29.4,-5.9],[30.7,-8.6],[33.1,-9.6],[33.6,-11],[33.1,-13.9],[30.2,-15.2],[27,-18.1],[24.1,-17.8],[22.5,-17],[21.8,-15.4],[21.8,-13.1],[24,-12.9],[24,-10.9],[22.2,-10.9],[21.7,-7.2],[19.8,-7],[19,-8],[17.4,-7.8],[16.6,-5.9],[12.3,-5.9],[12.4,-4.85],[14.5,-4.85],[15.85,-4.05],[16.1,-2.2],[17.4,-.6],[18.2,2.6]],
[[34.1,4.4],[35.2,5.2],[36.2,4.4],[40,3.6],[41.8,3.9],[40.9,2],[40.9,-.6],[41.5,-1.4],[40.2,-2.7],[38.9,-4.6],[37.3,-3],[33.9,-.9],[33.9,.45],[34.9,1.5],[34.4,3.1]],
[[16.6,-28.4],[18.75,-29],[20,-28.4],[20,-25],[21.15,-26.8],[23,-25.2],[25.4,-25.8],[26.7,-23.9],[29.1,-22.2],[31.2,-22.3],[31.9,-25],[32,-26.8],[32.8,-26.6],[32.5,-28.2],[30.2,-30.8],[28.3,-32.9],[25.7,-33.9],[22,-34.3],[19.8,-34.8],[18.2,-34],[18,-31.9]],
[[35.4,34.9],[35.9,32.7],[38.3,33.6],[38.8,32.5],[36.8,31.6],[37.4,30.5],[35.4,29.6],[34.1,30.5],[34.3,32.2]],
[[51.6,24],[54,24.3],[56.3,26],[56,24],[55,22.7],[52.4,23]],
[[-54,5.9],[-52,4.9],[-51.6,4.2],[-52.8,2.3],[-54.6,2.3],[-54,3.7]]
];
const overGrey=[
[[-14.9,21.4],[-13,23.5],[-12.2,25.9],[-11.4,27],[-8.8,27.1],[-8.8,26],[-12.1,26],[-12.1,23.5],[-13.3,22.7],[-13.3,21.4]],
[[-13.3,8.9],[-12.5,10],[-10.9,9.7],[-10.6,8.1],[-11.4,7.1],[-12.9,7.9]],
[[27,-29.75],[28.3,-28.7],[29.4,-29.65],[27.8,-30.7]],
[[92.4,22.1],[94.3,25.1],[97.5,28.5],[98.8,26.8],[98.5,23],[100,21.2],[98.1,20],[99.4,15.3],[98.8,10.6],[98.1,14],[94.3,16.1],[93,20]],
[[100,21.2],[101.7,22.5],[103.9,20.4],[107.1,15.3],[105.8,14],[103.9,17.4],[100.7,19.1]],
[[89.1,27.6],[91.7,27.5],[91.7,26.8],[89.1,26.8]],
[[124.4,40],[126.5,41.7],[128.5,42],[130.7,42.5],[129.8,41],[127.5,39.8],[128.3,38.6],[126.7,38],[125,38]],
[[35.7,36.5],[41.9,37.6],[41.2,35.6],[38.3,33.6],[35.9,32.7],[35.4,34.9]],
[[31.9,35.4],[33.7,35.6],[32.9,34.9]],
[[43.2,41.4],[44.3,41.5],[46.1,39.8],[45,39.4],[43.2,40.2]],
[[53.2,41.3],[57.7,42.6],[61.6,39.2],[66.7,37.9],[62.9,35.4],[60.3,36.6],[53.9,38.4]],
[[68,39.2],[69.9,40.9],[75,38.6],[74.4,37],[68,37.2]],
[[43,17.4],[47.5,17.4],[52,19.1],[52.8,17],[43.6,12.7],[42.6,14]],
[[18.3,43.1],[18.8,43.8],[20.1,43.1],[22.5,42.2],[21.7,41.1],[20.1,41.4],[19,42.5]],
[[5.7,50],[6.5,50],[6,49.4]],
[[-62.6,-22.2],[-61.8,-19.7],[-59,-19.3],[-58,-20.2],[-57.9,-22.1],[-55.7,-22.3],[-54.3,-24.2],[-54.7,-26.6],[-56.5,-27.3],[-58.6,-27.2],[-57.7,-25.3],[-60,-24]],
[[-60,8.5],[-58.5,7],[-57,6],[-54,5.9],[-54,3.7],[-54.6,2.3],[-57,2],[-58.5,1.3],[-59.9,1.5],[-59.9,5.5],[-61.3,5.9],[-61,7.5]],
[[-89.2,18],[-88.2,18.3],[-88.3,16.3],[-89.2,15.9]]
];
const waterWhite=[
[[47,45.5],[49,46.5],[53,46.8],[53,45.3],[51,44.6],[50.3,44.3],[51.5,43],[52.7,41.5],[53,40],[53.8,39],[54,37],[50.5,37.3],[49,38],[49.5,40.3],[47.5,43]]
];
const RED='#F8766D',TEAL='#00BFC4',GREY='#7F7F7F';
Chart.defaults.font.family='"Liberation Sans", Arial, sans-serif';
Chart.defaults.animation=false;
const noPlugins={legend:{display:false},tooltip:{enabled:false}};
const setTicks=list=>s=>{s.ticks=list.map(v=>({value:v}))};
const fitX=h=>s=>{s.height=h;s.paddingLeft=0;s.paddingRight=0};
const fitY=w=>s=>{s.width=w;s.paddingTop=0;s.paddingBottom=0};
const thin=(d,c)=>({data:d,borderColor:c,borderWidth:3.5,pointRadius:0,fill:false,borderJoinStyle:'round'});
const thick=(d,c)=>({data:d,borderColor:c,borderWidth:15,pointRadius:0,fill:false,borderJoinStyle:'round',cubicInterpolationMode:'monotone'});
const ribbonHi=(d,c)=>({data:d,borderWidth:0,borderColor:'transparent',pointRadius:0,backgroundColor:c,fill:'+1'});
const ribbonLo=d=>({data:d,borderWidth:0,borderColor:'transparent',pointRadius:0,fill:false});
function timePanel(id,yMin,yMax,yTicks,yTitle,xTitle,rh,rl,rm,th,tl,tm){
 new Chart(document.getElementById(id),{type:'line',
  data:{datasets:[thick(tm,'#14BBBE'),thin(th,TEAL),thin(tl,TEAL),
    ribbonHi(th,'rgba(0,191,196,.1)'),ribbonLo(tl),
    ribbonHi(rh,'rgba(248,118,109,.1)'),ribbonLo(rl),
    thin(rh,RED),thin(rl,RED),thick(rm,RED)]},
  options:{responsive:false,devicePixelRatio:1,events:[],plugins:noPlugins,
   layout:{padding:{top:21,right:24,left:0,bottom:0}},
   scales:{
    x:{type:'linear',min:-24,max:475.7,afterBuildTicks:setTicks(dateTickDays),afterFit:fitX(277),
       border:{display:true,color:'#000',width:3.5},
       grid:{drawOnChartArea:false,tickColor:'#222',tickLength:9,tickWidth:3},
       ticks:{autoSkip:false,minRotation:45,maxRotation:45,padding:6,labelOffset:12,color:'#4D4D4D',font:{size:36},callback:(v,i)=>dateTickLabels[i]},
       title:{display:!!xTitle,text:xTitle,color:'#000',font:{size:46},padding:{top:0,bottom:18}}},
    y:{type:'linear',min:yMin,max:yMax,afterBuildTicks:setTicks(yTicks),afterFit:fitY(131),
       border:{display:true,color:'#000',width:3.5},
       grid:{drawOnChartArea:false,tickColor:'#222',tickLength:9,tickWidth:3},
       ticks:{padding:10,color:'#4D4D4D',font:{size:36},callback:v=>String(v)},
       title:{display:true,text:yTitle,color:'#000',font:{size:46},padding:{top:14,bottom:0}}}
   }}});
}
timePanel('cA',-6.157,3.473,aYTicks,'CSI*','',aRedHi,aRedLo,aRedMed,aTealHi,aTealLo,aTealMed);
timePanel('cB',-3.858,5.352,bYTicks,'New cases (pmp)*','Date',bRedHi,bRedLo,bRedMed,bTealHi,bTealLo,bTealMed);
timePanel('cC',-3.798,5.442,cYTicks,'New deaths (pmp)*','',cRedHi,cRedLo,cRedMed,cTealHi,cTealLo,cTealMed);

const panelBox={id:'panelBox',afterDraw(ch){const a=ch.chartArea,c=ch.ctx;c.save();c.strokeStyle='#333';c.lineWidth=3;c.strokeRect(a.left,a.top,a.right-a.left,a.bottom-a.top);c.restore();}};
const countryLabels={id:'countryLabels',afterDatasetsDraw(ch){
 const c=ch.ctx,x=ch.scales.x,y=ch.scales.y;c.save();c.font='45px "Liberation Sans"';c.textAlign='center';c.textBaseline='middle';
 const one=(list,col)=>{for(const [code,vx,vy] of list){
   const px=x.getPixelForValue(vx),py=y.getPixelForValue(vy),w=c.measureText(code).width+19,h=48;
   c.beginPath();c.roundRect(px-w/2,py-h/2,w,h,5);c.fillStyle='#fff';c.fill();c.strokeStyle=col;c.lineWidth=2.5;c.stroke();
   c.fillStyle=col;c.fillText(code,px,py+2);}};
 one(dTeal,TEAL);one(dRed,RED);c.restore();}};
const segLine=(segs,col)=>({data:segs.flatMap(s=>[[s[0],s[1]],[s[2],s[3]],[s[2],NaN]]),borderColor:col,borderWidth:3,pointRadius:0,fill:false,spanGaps:false});
const gridW=ctx=>Number.isInteger(ctx.tick&&ctx.tick.value)?3.5:1.75;
const tickC=ctx=>Number.isInteger(ctx.tick&&ctx.tick.value)?'#333':'transparent';
new Chart(document.getElementById('cD'),{type:'line',plugins:[countryLabels,panelBox],
 data:{datasets:[segLine(dSegTeal,TEAL),segLine(dSegRed,RED)]},
 options:{responsive:false,devicePixelRatio:1,events:[],plugins:noPlugins,
  layout:{padding:{top:23,right:23,left:0,bottom:0}},
  scales:{
   x:{type:'linear',min:8.334,max:12.61,afterBuildTicks:setTicks(dXTicks),afterFit:fitX(136),
      border:{display:false},grid:{color:'#EBEBEB',lineWidth:gridW,tickColor:tickC,tickLength:9,tickWidth:3},
      ticks:{autoSkip:false,maxRotation:0,padding:6,color:'#4D4D4D',font:{size:36},callback:v=>Number.isInteger(v)?String(v):''},
      title:{display:true,text:'Median posterior ID estimate',color:'#000',font:{size:46},padding:{top:0,bottom:18}}},
   y:{type:'linear',min:.25,max:100.25,afterFit:fitY(90),border:{display:false},grid:{display:false},ticks:{display:false},
      title:{display:true,text:'Country Code',color:'#000',font:{size:46},padding:{top:13,bottom:0}}}
  }}});
new Chart(document.getElementById('cE'),{type:'line',plugins:[panelBox],
 data:{datasets:[
   {data:eBase,borderColor:'#000',borderWidth:4,pointRadius:0,fill:false},
   {data:eTeal,borderColor:'#000',borderWidth:4,pointRadius:0,backgroundColor:'rgba(0,191,196,.7)',fill:'origin',cubicInterpolationMode:'monotone'},
   {data:eRed,borderColor:'#000',borderWidth:4,pointRadius:0,backgroundColor:'rgba(248,118,109,.7)',fill:'origin',cubicInterpolationMode:'monotone'}]},
 options:{responsive:false,devicePixelRatio:1,events:[],plugins:noPlugins,
  layout:{padding:{top:23,right:24,left:0,bottom:0}},
  scales:{
   x:{type:'linear',min:8.227,max:12.702,afterBuildTicks:setTicks(eXTicks),afterFit:fitX(138),
      border:{display:false},grid:{color:'#EBEBEB',lineWidth:gridW,tickColor:tickC,tickLength:9,tickWidth:3},
      ticks:{autoSkip:false,maxRotation:0,padding:6,color:'#4D4D4D',font:{size:36},callback:v=>Number.isInteger(v)?String(v):''},
      title:{display:true,text:'ID posterior estimate',color:'#000',font:{size:46},padding:{top:0,bottom:18}}},
   y:{type:'linear',min:-.0593,max:1.373,afterBuildTicks:setTicks(eYTicks),afterFit:fitY(151),
      border:{display:false},
      grid:{color:'#EBEBEB',lineWidth:c=>(c.tick&&c.tick.value*2%1===0)?3.5:1.75,tickColor:c=>(c.tick&&c.tick.value*2%1===0)?'#333':'transparent',tickLength:9,tickWidth:3},
      ticks:{autoSkip:false,padding:6,color:'#4D4D4D',font:{size:36},callback:v=>(v*2%1===0)?v.toFixed(1):''},
      title:{display:true,text:'Kernel density',color:'#000',font:{size:46},padding:{top:16,bottom:0}}}
  }}});
const layers=[[baseTeal,TEAL],[baseRed,RED],[baseGrey,GREY],[overRed,RED],[overTeal,TEAL],[overGrey,GREY],[waterWhite,'#fff']];
const mapSets=[];
for(const [polys,col] of layers)for(const p of polys)mapSets.push({data:p,backgroundColor:col,borderColor:col,borderWidth:1,pointRadius:0,fill:'shape'});
new Chart(document.getElementById('cF'),{type:'line',plugins:[panelBox],
 data:{datasets:mapSets.reverse()},
 options:{responsive:false,devicePixelRatio:1,events:[],plugins:noPlugins,
  layout:{padding:{left:22,right:23,top:53,bottom:22}},
  scales:{x:{type:'linear',display:false,min:-198.1,max:198},y:{type:'linear',display:false,min:-98.66,max:92.36}}}});
</script></body></html>
